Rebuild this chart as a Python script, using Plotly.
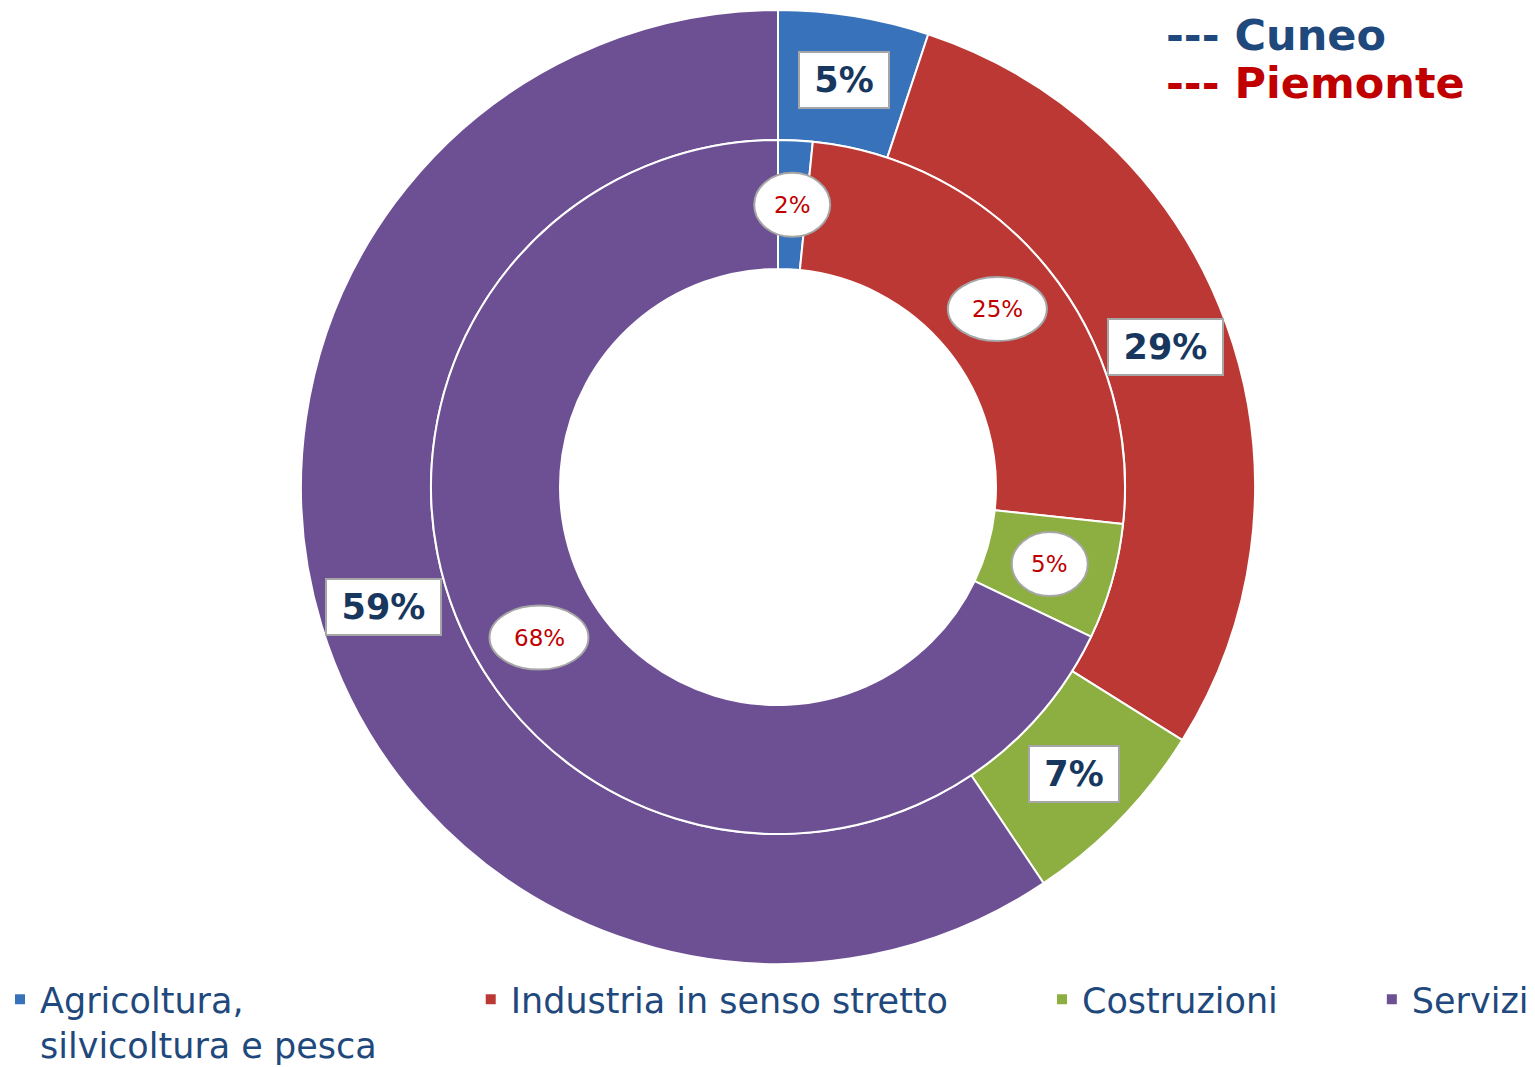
import math
import plotly.graph_objects as go

# sectors (legend order) and shares in %
categories = ["Agricoltura,<br>silvicoltura e pesca", "Industria in senso stretto", "Costruzioni", "Servizi"]
cuneo = [5.1, 28.8, 6.7, 59.4]        # outer ring
piemonte = [1.6, 25.1, 5.4, 67.9]     # inner ring
colors = ["#3872BB", "#BC3834", "#8DAE40", "#6D5093"]

W, H = 1535, 1067
cx, cy = 778, 580            # ring centre, px from bottom-left
r_out, r_mid, r_in = 477, 347, 218
FONT = "Verdana, DejaVu Sans"
PAD = "\u00a0" * 8           # spacing between legend entries


def dom(r):
    return dict(x=[(cx - r) / W, (cx + r) / W], y=[(cy - r) / H, (cy + r) / H])


def mid_points(values, r):
    total = sum(values)
    acc = 0
    pts = []
    for v in values:
        a = (acc + v / 2) / total * 2 * math.pi
        pts.append(((cx + r * math.sin(a)) / W, (cy + r * math.cos(a)) / H))
        acc += v
    return pts


# pad all but the last legend entry so they spread across the width
labels = [c + PAD for c in categories[:-1]] + categories[-1:]

fig = go.Figure()
fig.add_trace(go.Pie(
    labels=labels, values=cuneo, domain=dom(r_out), hole=r_mid / r_out,
    sort=False, direction="clockwise", rotation=0, textinfo="none",
    marker=dict(colors=colors, line=dict(color="white", width=2)),
    name="Cuneo",
))
fig.add_trace(go.Pie(
    labels=labels, values=piemonte, domain=dom(r_mid), hole=r_in / r_mid,
    sort=False, direction="clockwise", rotation=0, textinfo="none",
    marker=dict(colors=colors, line=dict(color="white", width=2)),
    name="Piemonte",
))

annotations = []
shapes = []

# outer (Cuneo) labels: boxed, bold navy
for v, (x, y) in zip(cuneo, mid_points(cuneo, (r_out + r_mid) / 2)):
    txt = f"{round(v / sum(cuneo) * 100)}%"
    annotations.append(dict(
        x=x, y=y, xref="paper", yref="paper", showarrow=False,
        xanchor="center", yanchor="middle", text=txt, width=25 * len(txt) + 24,
        font=dict(family=FONT, size=35, color="#17375E", weight="bold"),
        bgcolor="white", bordercolor="#A6A6A6", borderwidth=2, borderpad=7,
    ))

# inner (Piemonte) labels: red text in white ellipses
for v, (x, y) in zip(piemonte, mid_points(piemonte, (r_mid + r_in) / 2)):
    txt = f"{round(v / sum(piemonte) * 100)}%"
    w = 30 + 23 * len(txt)
    shapes.append(dict(
        type="circle", xref="paper", yref="paper",
        xsizemode="pixel", ysizemode="pixel", xanchor=x, yanchor=y,
        x0=-w / 2, x1=w / 2, y0=-32, y1=32,
        fillcolor="white", line=dict(color="#A6A6A6", width=2), layer="above",
    ))
    annotations.append(dict(
        x=x, y=y, xref="paper", yref="paper", showarrow=False,
        xanchor="center", yanchor="middle", text=txt,
        font=dict(family=FONT, size=23, color="#C00000"),
    ))

# series key, top right
annotations.append(dict(
    x=1164 / W, y=(H - 35) / H, xref="paper", yref="paper", showarrow=False,
    xanchor="left", yanchor="middle", text="--- Cuneo",
    font=dict(family=FONT, size=43, color="#1F497D", weight="bold"),
))
annotations.append(dict(
    x=1164 / W, y=(H - 83) / H, xref="paper", yref="paper", showarrow=False,
    xanchor="left", yanchor="middle", text="--- Piemonte",
    font=dict(family=FONT, size=43, color="#C00000", weight="bold"),
))

fig.update_layout(
    width=W, height=H,
    margin=dict(t=0, l=0, r=0, b=0, autoexpand=False),
    paper_bgcolor="white", plot_bgcolor="white",
    showlegend=True,
    legend=dict(
        orientation="h", x=0, xanchor="left", y=(H - 970) / H, yanchor="top",
        valign="top", traceorder="normal",
        font=dict(family=FONT, size=35, color="#1F497D"),
    ),
    annotations=annotations,
    shapes=shapes,
)

# drop the browser's default 8px body margin so the figure fills the window
fig.write_html("out.html", config={"displayModeBar": False},
               post_script="document.body.style.margin = '0';")
